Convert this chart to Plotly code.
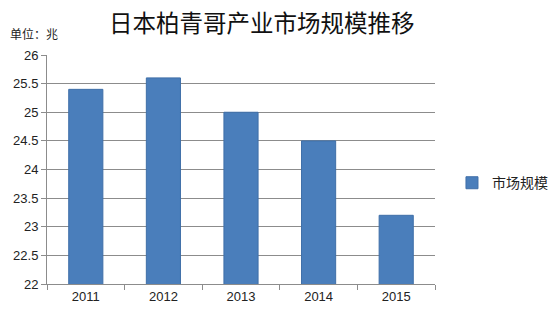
import plotly.graph_objects as go

years = ["2011", "2012", "2013", "2014", "2015"]
values = [25.4, 25.6, 25.0, 24.5, 23.2]
series_name = "市场规模"
title_text = "日本柏青哥产业市场规模推移"
unit_text = "单位：兆"

fig = go.Figure()
fig.add_trace(go.Bar(
    x=years, y=values, name=series_name,
    marker=dict(color="#4A7EBB", line=dict(color="#3F6FA8", width=1)),
    width=0.44,
))

font_cjk = "Noto Sans CJK SC, Liberation Sans, sans-serif"
fig.update_layout(
    width=558, height=323,
    margin=dict(l=47, r=123, t=55, b=39, autoexpand=False),
    paper_bgcolor="white", plot_bgcolor="white",
    font=dict(family="Liberation Sans, Arial, sans-serif", size=12, color="#222"),
    showlegend=True,
    legend=dict(xref="container", yref="container", x=0.81, y=0.433,
                xanchor="left", yanchor="middle",
                font=dict(family=font_cjk, size=14, color="#222"),
                itemwidth=30, bgcolor="rgba(0,0,0,0)"),
)
fig.add_annotation(text=title_text, xref="paper", yref="paper", x=0.553, y=1.0,
                   yshift=33, xanchor="center", yanchor="middle", showarrow=False,
                   font=dict(family=font_cjk, size=23.5, color="#111"))
fig.add_annotation(text=unit_text, xref="paper", yref="paper", x=-0.1, y=1.0,
                   yshift=22, xanchor="left", yanchor="middle", showarrow=False,
                   font=dict(family=font_cjk, size=12, color="#222"))
fig.update_yaxes(range=[22, 26], dtick=0.5, showgrid=True, gridcolor="#8c8c8c",
                 gridwidth=1, showline=True, linecolor="#8c8c8c", ticks="outside",
                 ticklen=5, tickcolor="#8c8c8c", zeroline=False,
                 tickfont=dict(size=13, color="#222"))
fig.update_xaxes(showline=True, linecolor="#8c8c8c", ticks="outside",
                 ticklen=5, tickcolor="#8c8c8c", tickson="boundaries",
                 tickfont=dict(size=13, color="#222"))
fig.write_html("out.html")
